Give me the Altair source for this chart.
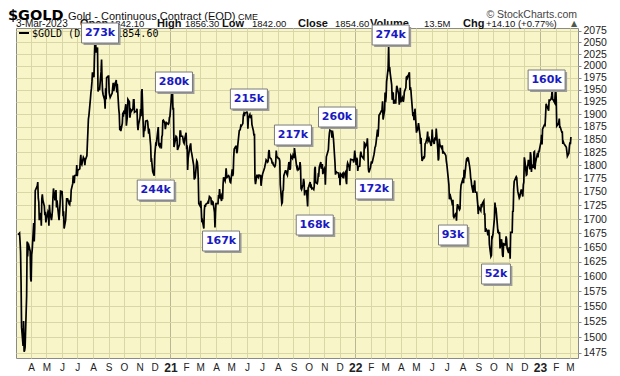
import altair as alt
import pandas as pd

# ---------------- data ----------------
d2020 = ["03-06","03-09","03-10","03-11","03-12","03-13","03-16","03-17","03-18","03-19","03-20","03-23","03-24","03-25","03-26","03-27","03-30","03-31",
         "04-01","04-02","04-03","04-06","04-07","04-08","04-09","04-13","04-14","04-15","04-16","04-17","04-20","04-21","04-22","04-23","04-24","04-27","04-28","04-29","04-30",
         "05-01","05-04","05-05","05-06","05-07","05-08","05-11","05-12","05-13","05-14","05-15","05-18","05-19","05-20","05-21","05-22","05-26","05-27","05-28","05-29",
         "06-01","06-02","06-03","06-04","06-05","06-08","06-09","06-10","06-11","06-12","06-15","06-16","06-17","06-18","06-19","06-22","06-23","06-24","06-25","06-26","06-29","06-30",
         "07-01","07-02","07-06","07-07","07-08","07-09","07-10","07-13","07-14","07-15","07-16","07-17","07-20","07-21","07-22","07-23","07-24","07-27","07-28","07-29","07-30","07-31",
         "08-03","08-04","08-05","08-06","08-07","08-10","08-11","08-12","08-13","08-14","08-17","08-18","08-19","08-20","08-21","08-24","08-25","08-26","08-27","08-28","08-31",
         "09-01","09-02","09-03","09-04","09-08","09-09","09-10","09-11","09-14","09-15","09-16","09-17","09-18","09-21","09-22","09-23","09-24","09-25","09-28","09-29","09-30",
         "10-01","10-02","10-05","10-06","10-07","10-08","10-09","10-12","10-13","10-14","10-15","10-16","10-19","10-20","10-21","10-22","10-23","10-26","10-27","10-28","10-29","10-30",
         "11-02","11-03","11-04","11-05","11-06","11-09","11-10","11-11","11-12","11-13","11-16","11-17","11-18","11-19","11-20","11-23","11-24","11-25","11-27","11-30",
         "12-01","12-02","12-03","12-04","12-07","12-08","12-09","12-10","12-11","12-14","12-15","12-16","12-17","12-18","12-21","12-22","12-23","12-24","12-28","12-29","12-30","12-31"]
p2020 = [1672,1675,1660,1642,1590,1516,1486,1526,1477,1479,1484,1567,1660,1634,1651,1654,1643,1596,
         1591,1637,1645,1693,1660,1684,1752,1761,1768,1738,1731,1698,1711,1688,1737,1745,1735,1723,1707,1713,1694,
         1700,1713,1710,1688,1726,1713,1698,1705,1716,1740,1756,1734,1745,1753,1721,1734,1698,1711,1727,1751,
         1750,1734,1705,1714,1683,1698,1715,1737,1737,1737,1727,1726,1735,1731,1753,1765,1780,1773,1766,1780,1781,1800,
         1779,1790,1793,1809,1820,1803,1801,1815,1813,1812,1800,1810,1818,1842,1865,1890,1897,1931,1944,1953,1966,1986,
         1976,2019,2049,2069,2028,2039,1946,1949,1954,1949,1987,2013,1970,1947,1940,1929,1911,1953,1930,1975,1978,
         1978,1944,1938,1934,1943,1954,1964,1947,1964,1966,1970,1944,1962,1910,1900,1868,1876,1866,1882,1903,1895,
         1907,1900,1920,1877,1887,1895,1930,1925,1893,1901,1908,1906,1911,1929,1929,1904,1905,1905,1911,1879,1868,1879,
         1894,1910,1896,1946,1951,1854,1875,1866,1873,1886,1887,1885,1873,1861,1871,1837,1806,1808,1788,1780,
         1818,1830,1841,1840,1866,1874,1839,1837,1843,1832,1855,1858,1887,1888,1882,1870,1877,1883,1880,1882,1893,1895]

d2021 = ["01-04","01-05","01-06","01-07","01-08","01-11","01-12","01-13","01-14","01-15","01-19","01-20","01-21","01-22","01-25","01-26","01-27","01-28","01-29",
         "02-01","02-02","02-03","02-04","02-05","02-08","02-09","02-10","02-11","02-12","02-16","02-17","02-18","02-19","02-22","02-23","02-24","02-25","02-26",
         "03-01","03-02","03-03","03-04","03-05","03-08","03-09","03-10","03-11","03-12","03-15","03-16","03-17","03-18","03-19","03-22","03-23","03-24","03-25","03-26","03-29","03-30","03-31",
         "04-01","04-05","04-06","04-07","04-08","04-09","04-12","04-13","04-14","04-15","04-16","04-19","04-20","04-21","04-22","04-23","04-26","04-27","04-28","04-29","04-30",
         "05-03","05-04","05-05","05-06","05-07","05-10","05-11","05-12","05-13","05-14","05-17","05-18","05-19","05-20","05-21","05-24","05-25","05-26","05-27","05-28",
         "06-01","06-02","06-03","06-04","06-07","06-08","06-09","06-10","06-11","06-14","06-15","06-16","06-17","06-18","06-21","06-22","06-23","06-24","06-25","06-28","06-29","06-30",
         "07-01","07-02","07-06","07-07","07-08","07-09","07-12","07-13","07-14","07-15","07-16","07-19","07-20","07-21","07-22","07-23","07-26","07-27","07-28","07-29","07-30",
         "08-02","08-03","08-04","08-05","08-06","08-09","08-10","08-11","08-12","08-13","08-16","08-17","08-18","08-19","08-20","08-23","08-24","08-25","08-26","08-27","08-30","08-31",
         "09-01","09-02","09-03","09-07","09-08","09-09","09-10","09-13","09-14","09-15","09-16","09-17","09-20","09-21","09-22","09-23","09-24","09-27","09-28","09-29","09-30",
         "10-01","10-04","10-05","10-06","10-07","10-08","10-11","10-12","10-13","10-14","10-15","10-18","10-19","10-20","10-21","10-22","10-25","10-26","10-27","10-28","10-29",
         "11-01","11-02","11-03","11-04","11-05","11-08","11-09","11-10","11-11","11-12","11-15","11-16","11-17","11-18","11-19","11-22","11-23","11-24","11-26","11-29","11-30",
         "12-01","12-02","12-03","12-06","12-07","12-08","12-09","12-10","12-13","12-14","12-15","12-16","12-17","12-20","12-21","12-22","12-23","12-27","12-28","12-29","12-30","12-31"]
p2021 = [1946,1954,1909,1913,1835,1850,1856,1855,1851,1829,1840,1866,1866,1856,1856,1850,1844,1842,1850,
         1863,1834,1835,1791,1813,1834,1838,1842,1827,1823,1799,1773,1775,1777,1808,1806,1797,1775,1728,
         1723,1733,1716,1697,1698,1683,1716,1726,1722,1727,1729,1731,1728,1735,1741,1738,1726,1734,1725,1732,1712,1685,1713,
         1728,1728,1744,1737,1755,1744,1733,1747,1736,1764,1777,1770,1778,1794,1782,1777,1780,1778,1773,1768,1767,
         1792,1779,1784,1815,1831,1836,1836,1823,1826,1838,1867,1868,1870,1877,1876,1881,1898,1901,1896,1902,
         1904,1902,1871,1892,1899,1894,1895,1896,1879,1866,1857,1861,1774,1764,1782,1778,1779,1777,1781,1780,1761,1770,
         1777,1783,1795,1800,1804,1810,1806,1808,1825,1829,1815,1812,1809,1803,1806,1801,1797,1799,1806,1828,1817,
         1813,1813,1812,1808,1763,1728,1730,1751,1753,1780,1789,1789,1788,1783,1781,1806,1802,1791,1794,1818,1813,1818,
         1815,1815,1833,1799,1794,1796,1791,1794,1806,1797,1756,1754,1764,1774,1768,1743,1751,1752,1737,1723,1757,
         1759,1768,1760,1761,1756,1757,1754,1760,1793,1797,1767,1765,1770,1782,1781,1796,1806,1793,1798,1802,1783,
         1793,1789,1763,1791,1816,1826,1830,1850,1862,1868,1866,1853,1867,1860,1851,1805,1782,1788,1786,1785,1776,
         1782,1762,1783,1779,1784,1785,1775,1782,1787,1770,1764,1798,1804,1796,1789,1802,1811,1810,1810,1805,1814,1828]

d2022 = ["01-03","01-04","01-05","01-06","01-07","01-10","01-11","01-12","01-13","01-14","01-18","01-19","01-20","01-21","01-24","01-25","01-26","01-27","01-28","01-31",
         "02-01","02-02","02-03","02-04","02-07","02-08","02-09","02-10","02-11","02-14","02-15","02-16","02-17","02-18","02-22","02-23","02-24","02-25","02-28",
         "03-01","03-02","03-03","03-04","03-07","03-08","03-09","03-10","03-11","03-14","03-15","03-16","03-17","03-18","03-21","03-22","03-23","03-24","03-25","03-28","03-29","03-30","03-31",
         "04-01","04-04","04-05","04-06","04-07","04-08","04-11","04-12","04-13","04-14","04-18","04-19","04-20","04-21","04-22","04-25","04-26","04-27","04-28","04-29",
         "05-02","05-03","05-04","05-05","05-06","05-09","05-10","05-11","05-12","05-13","05-16","05-17","05-18","05-19","05-20","05-23","05-24","05-25","05-26","05-27","05-31",
         "06-01","06-02","06-03","06-06","06-07","06-08","06-09","06-10","06-13","06-14","06-15","06-16","06-17","06-21","06-22","06-23","06-24","06-27","06-28","06-29","06-30",
         "07-01","07-05","07-06","07-07","07-08","07-11","07-12","07-13","07-14","07-15","07-18","07-19","07-20","07-21","07-22","07-25","07-26","07-27","07-28","07-29",
         "08-01","08-02","08-03","08-04","08-05","08-08","08-09","08-10","08-11","08-12","08-15","08-16","08-17","08-18","08-19","08-22","08-23","08-24","08-25","08-26","08-29","08-30","08-31",
         "09-01","09-02","09-06","09-07","09-08","09-09","09-12","09-13","09-14","09-15","09-16","09-19","09-20","09-21","09-22","09-23","09-26","09-27","09-28","09-29","09-30",
         "10-03","10-04","10-05","10-06","10-07","10-10","10-11","10-12","10-13","10-14","10-17","10-18","10-19","10-20","10-21","10-24","10-25","10-26","10-27","10-28","10-31",
         "11-01","11-02","11-03","11-04","11-07","11-08","11-09","11-10","11-11","11-14","11-15","11-16","11-17","11-18","11-21","11-22","11-23","11-25","11-28","11-29","11-30",
         "12-01","12-02","12-05","12-06","12-07","12-08","12-09","12-12","12-13","12-14","12-15","12-16","12-19","12-20","12-21","12-22","12-23","12-27","12-28","12-29","12-30"]
p2022 = [1800,1814,1810,1789,1797,1798,1818,1826,1821,1817,1812,1843,1842,1835,1841,1852,1829,1793,1786,1795,
         1801,1807,1803,1807,1820,1826,1834,1836,1842,1869,1855,1871,1898,1899,1907,1910,1926,1889,1908,
         1944,1924,1936,1966,1995,2043,1988,1997,1985,1960,1929,1944,1943,1921,1929,1921,1944,1958,1954,1939,1919,1934,1954,
         1924,1933,1928,1925,1932,1945,1954,1976,1977,1974,1986,1949,1955,1949,1934,1896,1904,1888,1891,1911,
         1863,1870,1869,1875,1882,1858,1841,1853,1824,1808,1815,1814,1816,1841,1842,1853,1865,1846,1848,1851,1837,
         1846,1869,1850,1841,1852,1853,1848,1871,1831,1809,1813,1851,1840,1832,1838,1822,1826,1822,1820,1818,1807,
         1801,1763,1736,1739,1742,1731,1725,1735,1705,1703,1709,1711,1697,1718,1727,1719,1717,1719,1750,1762,
         1772,1776,1766,1791,1775,1805,1812,1813,1807,1815,1797,1789,1776,1771,1762,1748,1761,1761,1771,1749,1749,1736,1726,
         1709,1722,1715,1727,1721,1728,1733,1709,1709,1677,1683,1678,1671,1675,1681,1655,1634,1636,1670,1668,1672,
         1702,1730,1721,1720,1709,1675,1677,1673,1677,1648,1664,1652,1636,1633,1656,1654,1658,1669,1664,1648,1640,
         1649,1650,1630,1676,1676,1715,1713,1754,1769,1776,1778,1776,1762,1751,1738,1740,1746,1754,1741,1763,1768,
         1815,1809,1781,1782,1798,1800,1810,1792,1825,1818,1787,1800,1797,1825,1826,1792,1804,1823,1815,1826,1826]

d2023 = ["01-03","01-04","01-05","01-06","01-09","01-10","01-11","01-12","01-13","01-17","01-18","01-19","01-20","01-23","01-24","01-25","01-26","01-27","01-30","01-31",
         "02-01","02-02","02-03","02-06","02-07","02-08","02-09","02-10","02-13","02-14","02-15","02-16","02-17","02-21","02-22","02-23","02-24","02-27","02-28",
         "03-01","03-02","03-03"]
p2023 = [1846,1859,1840,1870,1877,1879,1878,1898,1921,1910,1907,1930,1927,1931,1937,1949,1930,1929,1923,1942,
         1951,1930,1876,1880,1883,1891,1874,1874,1864,1864,1841,1845,1842,1836,1834,1826,1817,1823,1836,
         1844,1840.5,1854.6]

# annotation boxes (volume notes), placed at their centres
ann_date = ["2020-08-15","2021-01-08","2020-12-03","2021-04-11","2021-06-05","2021-08-31","2021-11-26",
            "2021-10-13","2022-02-07","2022-03-12","2022-07-13","2022-10-06","2023-01-14"]
ann_price = [2070.6, 1965.8, 1753.1, 1660.9, 1930.7, 1858.4, 1894.2, 1689.3, 1755.0, 2066.2, 1671.5, 1603.8, 1970.0]
ann_label = ["273k","280k","244k","167k","215k","217k","260k","168k","172k","274k","93k","52k","160k"]

y_ticks = [1475,1500,1525,1550,1575,1600,1625,1650,1675,1700,1725,1750,1775,1800,1825,1850,
           1875,1900,1925,1950,1975,2000,2025,2050,2075]

# ---------------- build ----------------
dates, prices = [], []
for yr, dl, pl in [(2020, d2020, p2020), (2021, d2021, p2021), (2022, d2022, p2022), (2023, d2023, p2023)]:
    dates += [f"{yr}-{d}" for d in dl]
    prices += pl
df = pd.DataFrame({"date": dates, "close": prices})

ann = pd.DataFrame({"date": ann_date, "close": ann_price, "label": ann_label,
                    "kind": ["w" if len(s) == 4 else "n" for s in ann_label]})

month_ticks = []
for yr in (2020, 2021, 2022, 2023):
    for m in range(1, 13):
        if (yr == 2020 and m < 4) or (yr == 2023 and m > 3):
            continue
        month_ticks.append(alt.DateTime(year=yr, month=m, date=1, utc=True))

xscale = alt.Scale(type="utc",
                   domain=[alt.DateTime(year=2020, month=3, date=2, utc=True),
                           alt.DateTime(year=2023, month=3, date=17, utc=True)])
yscale = alt.Scale(type="log", domain=[1467.2, 2081.6], nice=False, zero=False)

is_jan = "utcmonth(datum.value) == 0"

x_axis = alt.Axis(values=month_ticks, title=None, ticks=False, domain=False,
                  labelExpr="utcmonth(datum.value) == 0 ? utcFormat(datum.value, '%y') : substring(utcFormat(datum.value, '%b'), 0, 1)",
                  labelFontWeight={"condition": {"test": is_jan, "value": "bold"}, "value": "normal"},
                  labelFontSize={"condition": {"test": is_jan, "value": 12}, "value": 10},
                  labelColor="#222", labelFont="Liberation Sans", labelPadding=4,
                  labelFlush=False, labelOverlap=False,
                  grid=True,
                  gridColor={"condition": {"test": is_jan, "value": "#b9b692"}, "value": "#d9d6a8"},
                  gridWidth=1)
y_axis = alt.Axis(orient="right", values=y_ticks, format="d", title=None, domain=False,
                  tickColor="#888", tickSize=3, labelPadding=2,
                  labelFont="Liberation Sans", labelFontSize=10.5, labelColor="#222",
                  labelFlush=False, labelOverlap=False,
                  grid=True, gridColor="#d9d6a8", gridWidth=1)

X = alt.X("date:T", scale=xscale, axis=x_axis)
Y = alt.Y("close:Q", scale=yscale, axis=y_axis)

line = alt.Chart(df).mark_line(color="black", strokeWidth=1.7).encode(x=X, y=Y)

path_w = "M-1,-0.54L1,-0.54L1,0.54L-1,0.54Z"
path_n = "M-0.78,-0.54L0.78,-0.54L0.78,0.54L-0.78,0.54Z"
shape_scale = alt.Scale(domain=["w", "n"], range=[path_w, path_n])

shadow = alt.Chart(ann).mark_point(filled=True, fill="#9c9c9c", strokeWidth=0, opacity=1,
                                   size=1369, xOffset=2, yOffset=2).encode(
    x=X, y=Y, shape=alt.Shape("kind:N", scale=shape_scale, legend=None))
box = alt.Chart(ann).mark_point(filled=True, fill="white", stroke="#7a7a7a", strokeWidth=1,
                                opacity=1, fillOpacity=1, size=1369).encode(
    x=X, y=Y, shape=alt.Shape("kind:N", scale=shape_scale, legend=None))
lab = alt.Chart(ann).mark_text(font="DejaVu Sans", fontWeight="bold", fontSize=11,
                               color="#1a1ac0", align="center", baseline="middle").encode(
    x=X, y=Y, text="label:N")

one = alt.Data(values=[{}])

def txt(s, x, y, size=11, weight="normal", font="Liberation Sans", color="#111", align="left"):
    return alt.Chart(one).mark_text(text=s, fontSize=size, fontWeight=weight, font=font,
                                    color=color, align=align, baseline="alphabetic").encode(
        x=alt.value(x), y=alt.value(y))

L1 = -8.5    # first header line baseline
L2 = -1.5    # second header line baseline
header = [
    txt("$GOLD", -8, L1, size=14.5, weight="bold", font="DejaVu Sans", color="#000"),
    txt("Gold - Continuous Contract (EOD)", 52, L1, size=11),
    txt("CME", 222, L1, size=9),
    txt("© StockCharts.com", 561, -10, size=10.5, color="#444", align="right"),
    txt("3-Mar-2023", 0, L2, size=10),
    txt("Open", 64, L2, size=11, weight="bold"),
    txt("1842.10", 94, L2, size=9.5),
    txt("High", 141, L2, size=11, weight="bold"),
    txt("1856.30", 169, L2, size=9.5),
    txt("Low", 206, L2, size=11, weight="bold"),
    txt("1842.00", 236, L2, size=9.5),
    txt("Close", 282, L2, size=11, weight="bold"),
    txt("1854.60", 319, L2, size=9.5),
    txt("Volume", 354, L2, size=11, weight="bold"),
    txt("13.5M", 408, L2, size=9.5),
    txt("Chg", 447, L2, size=11, weight="bold"),
    txt("+14.10 (+0.77%)", 470, L2, size=9.5),
    txt("▲", 555, L2 - 1, size=8, font="DejaVu Sans", color="#4d5a4d"),
]

legend_rule = alt.Chart(one).mark_rule(color="black", strokeWidth=2).encode(
    x=alt.value(3), x2=alt.value(13), y=alt.value(5))
legend_txt = txt("$GOLD (Daily) 1854.60", 16, 9, size=10, font="DejaVu Sans Mono", color="#000")

chart = alt.layer(line, legend_rule, legend_txt, *header, shadow, box, lab).properties(
    width=562, height=330,
    padding={"left": 8, "top": 20, "right": 34, "bottom": 18},
    autosize="none",
    background="white",
).configure_view(fill="#f8f5c8", stroke="#8a8a8a", strokeWidth=1)

chart.save("out.html", embed_options={"renderer": "svg", "actions": False})
